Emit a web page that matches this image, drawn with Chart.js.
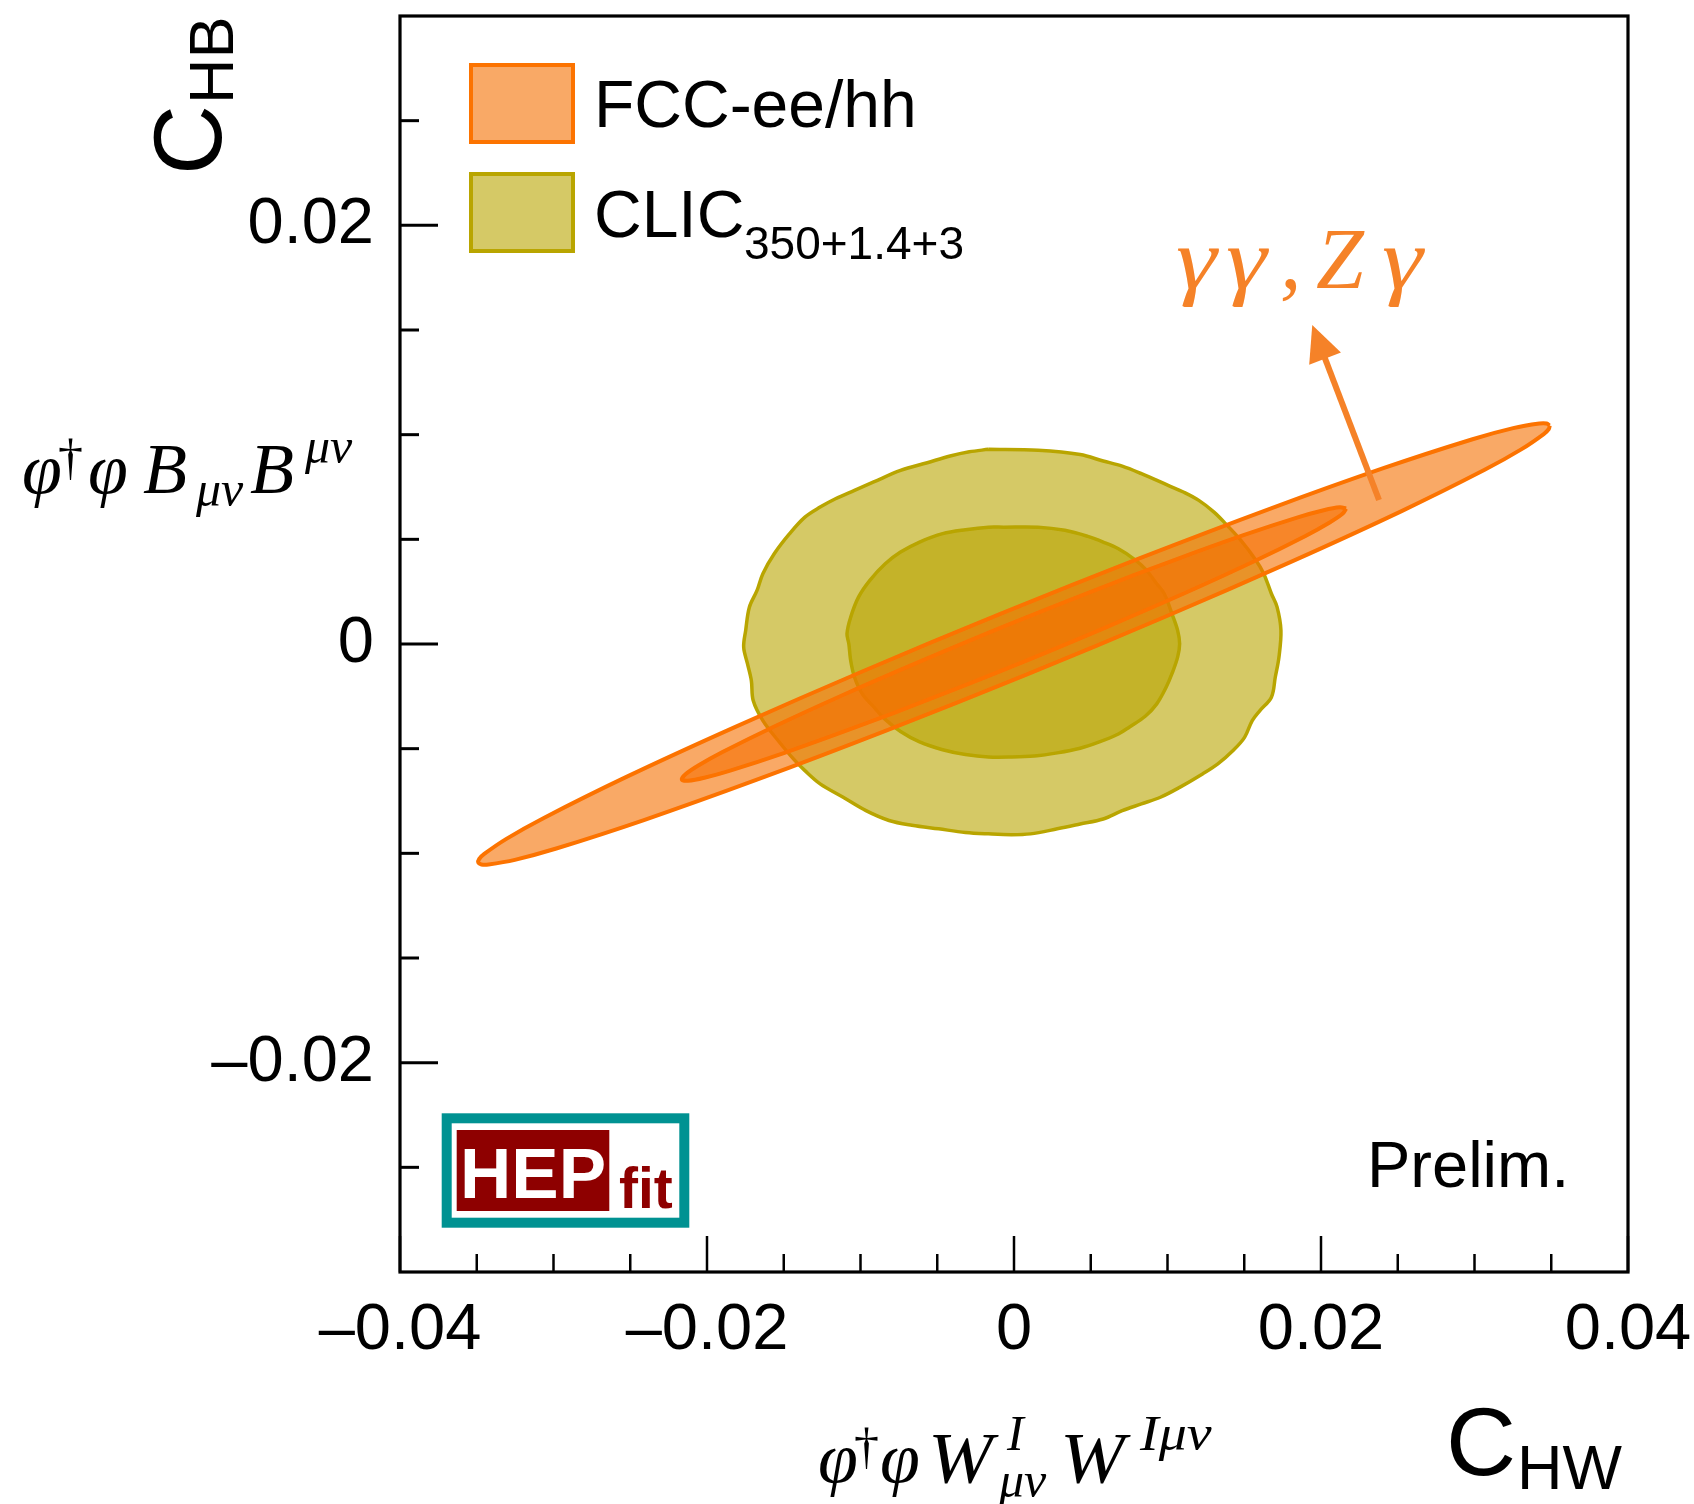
<!DOCTYPE html>
<html>
<head>
<meta charset="utf-8">
<script src="https://cdn.jsdelivr.net/npm/chart.js@4.4.1/dist/chart.umd.min.js"></script>
<style>
  html, body { margin: 0; padding: 0; background: #ffffff; }
  #wrap { width: 1694px; height: 1504px; position: relative; }
</style>
</head>
<body>
<div id="wrap"><canvas id="chart" width="1694" height="1504"></canvas></div>
<script>
// ---- axis ticks ----
const xTickValues = [-0.04, -0.02, 0, 0.02, 0.04];
const xTickLabels = ['\u20130.04', '\u20130.02', '0', '0.02', '0.04'];
const yTickValues = [-0.02, 0, 0.02];
const yTickLabels = ['\u20130.02', '0', '0.02'];
const xMinorTicks = [-0.035, -0.03, -0.025, -0.015, -0.01, -0.005, 0.005, 0.01, 0.015, 0.025, 0.03, 0.035];
const yMinorTicks = [-0.025, -0.015, -0.01, -0.005, 0.005, 0.01, 0.015, 0.025];

// ---- fit contours (C_HW, C_HB) ----
const fccOuter = [
  [0.03490, 0.01044], [0.03484, 0.01027], [0.03451, 0.01003], [0.03307, 0.00931],
  [0.03063, 0.00831], [0.02525, 0.00635], [0.01815, 0.00396], [0.00981, 0.00129],
  [0.00081, -0.00146], [-0.00825, -0.00411], [-0.01675, -0.00648], [-0.02411, -0.00841],
  [-0.02982, -0.00977], [-0.03252, -0.01031], [-0.03423, -0.01053], [-0.03470, -0.01053],
  [-0.03490, -0.01044], [-0.03484, -0.01027], [-0.03451, -0.01003], [-0.03307, -0.00931],
  [-0.03063, -0.00831], [-0.02525, -0.00635], [-0.01815, -0.00396], [-0.00981, -0.00129],
  [-0.00081, 0.00146], [0.00825, 0.00411], [0.01675, 0.00648], [0.02411, 0.00841],
  [0.02982, 0.00977], [0.03252, 0.01031], [0.03423, 0.01053], [0.03470, 0.01053]
];
const fccInner = [
  [0.02164, 0.00647], [0.02140, 0.00622], [0.02051, 0.00578], [0.01899, 0.00516],
  [0.01565, 0.00395], [0.01125, 0.00247], [0.00607, 0.00082], [0.00049, -0.00089],
  [-0.00513, -0.00253], [-0.01040, -0.00400], [-0.01495, -0.00520], [-0.01849, -0.00605],
  [-0.02017, -0.00639], [-0.02123, -0.00653], [-0.02164, -0.00647], [-0.02140, -0.00622],
  [-0.02051, -0.00578], [-0.01899, -0.00516], [-0.01565, -0.00395], [-0.01125, -0.00247],
  [-0.00607, -0.00082], [-0.00049, 0.00089], [0.00513, 0.00253], [0.01040, 0.00400],
  [0.01495, 0.00520], [0.01849, 0.00605], [0.02017, 0.00639], [0.02123, 0.00653]
];
const clicOuter = [
  [-0.00167, 0.00930], [0.00157, 0.00925], [0.00431, 0.00905], [0.00581, 0.00874],
  [0.00705, 0.00850], [0.00830, 0.00814], [0.01004, 0.00758], [0.01103, 0.00726],
  [0.01204, 0.00686], [0.01303, 0.00630], [0.01378, 0.00575], [0.01478, 0.00495],
  [0.01577, 0.00399], [0.01627, 0.00336], [0.01677, 0.00240], [0.01714, 0.00176],
  [0.01739, 0.00065], [0.01726, -0.00063], [0.01702, -0.00159], [0.01677, -0.00254],
  [0.01602, -0.00318], [0.01552, -0.00366], [0.01502, -0.00446], [0.01427, -0.00509],
  [0.01328, -0.00573], [0.01228, -0.00621], [0.01079, -0.00685], [0.00954, -0.00732],
  [0.00830, -0.00764], [0.00705, -0.00796], [0.00581, -0.00836], [0.00431, -0.00860],
  [0.00282, -0.00883], [0.00107, -0.00907], [-0.00017, -0.00911], [-0.00167, -0.00907],
  [-0.00316, -0.00900], [-0.00491, -0.00883], [-0.00665, -0.00866], [-0.00814, -0.00843],
  [-0.00964, -0.00796], [-0.01113, -0.00732], [-0.01263, -0.00668], [-0.01362, -0.00605],
  [-0.01437, -0.00549], [-0.01537, -0.00461], [-0.01636, -0.00366], [-0.01699, -0.00270],
  [-0.01711, -0.00175], [-0.01736, -0.00095], [-0.01761, -0.00015], [-0.01748, 0.00065],
  [-0.01724, 0.00176], [-0.01674, 0.00256], [-0.01636, 0.00336], [-0.01562, 0.00431],
  [-0.01462, 0.00527], [-0.01362, 0.00606], [-0.01263, 0.00654], [-0.01163, 0.00694],
  [-0.01039, 0.00734], [-0.00914, 0.00774], [-0.00739, 0.00829], [-0.00565, 0.00866],
  [-0.00416, 0.00898], [-0.00291, 0.00918]
];
const clicInner = [
  [-0.00067, 0.00558], [0.00157, 0.00558], [0.00331, 0.00543], [0.00481, 0.00514],
  [0.00581, 0.00487], [0.00680, 0.00455], [0.00780, 0.00407], [0.00855, 0.00359],
  [0.00930, 0.00288], [0.00979, 0.00240], [0.01029, 0.00144], [0.01066, 0.00065],
  [0.01079, 0.00001], [0.01066, -0.00063], [0.01029, -0.00142], [0.00991, -0.00207],
  [0.00930, -0.00286], [0.00855, -0.00345], [0.00755, -0.00395], [0.00680, -0.00430],
  [0.00556, -0.00468], [0.00431, -0.00498], [0.00282, -0.00520], [0.00132, -0.00535],
  [-0.00017, -0.00540], [-0.00167, -0.00540], [-0.00316, -0.00528], [-0.00465, -0.00505],
  [-0.00615, -0.00468], [-0.00739, -0.00418], [-0.00839, -0.00360], [-0.00914, -0.00300],
  [-0.00989, -0.00238], [-0.01039, -0.00159], [-0.01064, -0.00079], [-0.01076, 0.00001],
  [-0.01088, 0.00049], [-0.01064, 0.00128], [-0.01013, 0.00224], [-0.00939, 0.00304],
  [-0.00839, 0.00383], [-0.00739, 0.00439], [-0.00615, 0.00487], [-0.00465, 0.00527],
  [-0.00316, 0.00546], [-0.00167, 0.00558]
];

// arrow pointing out of the band, in (C_HW, C_HB) units
const arrowTail = [0.02378, 0.00688];
const arrowTip = [0.01943, 0.01524];

const SANS = '"Liberation Sans", Arial, Helvetica, sans-serif';
const SERIF = '"Liberation Serif", "Times New Roman", serif';

const FCC_LINE = 'rgb(252, 115, 0)';
const FCC_FILL = 'rgba(245, 112, 0, 0.6)';
const CLIC_LINE = 'rgb(185, 165, 0)';
const CLIC_FILL = 'rgba(185, 165, 0, 0.6)';
const ARROW = 'rgb(245, 130, 40)';

const loopPoints = arr => arr.concat([arr[0]]).map(p => ({ x: p[0], y: p[1] }));

function contour(label, pts, line, fillCol, width, order) {
  return {
    label, data: loopPoints(pts), showLine: true, fill: 'shape',
    backgroundColor: fillCol, borderColor: line, borderWidth: width,
    pointRadius: 0, pointHoverRadius: 0, pointHitRadius: 0,
    tension: 0.35, order
  };
}

function text(ctx, str, x, y, font, color, align, stretch) {
  ctx.save();
  ctx.font = font;
  ctx.fillStyle = color || '#000';
  ctx.textAlign = align || 'left';
  ctx.textBaseline = 'alphabetic';
  ctx.translate(x, y);
  if (stretch) ctx.scale(stretch, 1);
  ctx.fillText(str, 0, 0);
  ctx.restore();
}

const decorations = {
  id: 'decorations',
  afterDraw(chart) {
    const { ctx, chartArea: a, scales: { x, y } } = chart;
    ctx.save();

    // tick marks, pointing into the frame
    ctx.strokeStyle = '#000';
    ctx.lineCap = 'butt';
    const seg = (x1, y1, x2, y2, w) => {
      ctx.lineWidth = w; ctx.beginPath(); ctx.moveTo(x1, y1); ctx.lineTo(x2, y2); ctx.stroke();
    };
    xTickValues.forEach(v => { const p = x.getPixelForValue(v); seg(p, a.bottom, p, a.bottom - 36, 2.5); });
    xMinorTicks.forEach(v => { const p = x.getPixelForValue(v); seg(p, a.bottom, p, a.bottom - 18, 2.5); });
    yTickValues.forEach(v => { const p = y.getPixelForValue(v); seg(a.left, p, a.left + 38, p, 3); });
    yMinorTicks.forEach(v => { const p = y.getPixelForValue(v); seg(a.left, p, a.left + 19, p, 3); });

    // frame
    ctx.lineWidth = 3.2;
    ctx.strokeRect(a.left, a.top, a.right - a.left, a.bottom - a.top);

    // legend
    ctx.lineWidth = 4;
    ctx.fillStyle = FCC_FILL; ctx.fillRect(471, 65, 102, 77);
    ctx.strokeStyle = FCC_LINE; ctx.strokeRect(471, 65, 102, 77);
    ctx.fillStyle = CLIC_FILL; ctx.fillRect(471, 174, 102, 77);
    ctx.strokeStyle = CLIC_LINE; ctx.strokeRect(471, 174, 102, 77);
    text(ctx, 'FCC-ee/hh', 594, 127, `66px ${SANS}`);
    text(ctx, 'CLIC', 594, 237, `66px ${SANS}`);
    text(ctx, '350+1.4+3', 744, 259, `46px ${SANS}`);

    // arrow and its label
    const tx = x.getPixelForValue(arrowTail[0]), ty = y.getPixelForValue(arrowTail[1]);
    const hx = x.getPixelForValue(arrowTip[0]), hy = y.getPixelForValue(arrowTip[1]);
    const len = Math.hypot(hx - tx, hy - ty);
    const ux = (hx - tx) / len, uy = (hy - ty) / len;
    const headL = 36, headW = 17;
    const bx = hx - ux * headL, by = hy - uy * headL;
    ctx.strokeStyle = ARROW; ctx.fillStyle = ARROW;
    seg(tx, ty, bx + ux * 4, by + uy * 4, 6);
    ctx.beginPath();
    ctx.moveTo(hx, hy);
    ctx.lineTo(bx - uy * headW, by + ux * headW);
    ctx.lineTo(bx + uy * headW, by - ux * headW);
    ctx.closePath(); ctx.fill();

    const gfont = `italic 86px ${SERIF}`;
    text(ctx, '\u03b3', 1176, 288, gfont, ARROW, null, 1.2);
    text(ctx, '\u03b3', 1226, 288, gfont, ARROW, null, 1.2);
    text(ctx, ',', 1280, 288, gfont, ARROW);
    text(ctx, 'Z', 1316, 288, gfont, ARROW);
    text(ctx, '\u03b3', 1382, 288, gfont, ARROW, null, 1.2);

    // Prelim.
    text(ctx, 'Prelim.', 1367, 1187, `65px ${SANS}`);

    // HEPfit badge
    ctx.strokeStyle = 'rgb(0, 146, 146)'; ctx.lineWidth = 10;
    ctx.strokeRect(446.7, 1118.3, 237.6, 104.4);
    ctx.fillStyle = 'rgb(142, 0, 0)';
    ctx.fillRect(456.7, 1130, 152.6, 81);
    text(ctx, 'HEP', 460, 1198, `bold 71px ${SANS}`, '#ffffff');
    text(ctx, 'fit', 619, 1208, `bold 57px ${SANS}`, 'rgb(142, 0, 0)');

    // axis titles
    ctx.save();
    ctx.translate(221, 175);
    ctx.rotate(-Math.PI / 2);
    text(ctx, 'C', 0, 0, `97px ${SANS}`);
    text(ctx, 'HB', 71, 12, `63px ${SANS}`);
    ctx.restore();
    text(ctx, 'C', 1446, 1475, `97px ${SANS}`);
    text(ctx, 'HW', 1517, 1489, `63px ${SANS}`);

    // operator names
    const mi = s => `italic ${s}px ${SERIF}`;
    const up = s => `${s}px ${SERIF}`;
    text(ctx, '\u03c6', 22, 493, mi(72));
    text(ctx, '\u2020', 58, 474, up(50));
    text(ctx, '\u03c6', 88, 493, mi(72));
    text(ctx, 'B', 143, 493, mi(72));
    text(ctx, '\u03bc\u03bd', 196, 506, mi(50));
    text(ctx, 'B', 250, 493, mi(72));
    text(ctx, '\u03bc\u03bd', 305, 463, mi(50));

    text(ctx, '\u03c6', 818, 1482, mi(72));
    text(ctx, '\u2020', 854, 1463, up(50));
    text(ctx, '\u03c6', 880, 1482, mi(72));
    text(ctx, 'W', 928, 1482, mi(72), null, null, 1.08);
    text(ctx, 'I', 1007, 1450, mi(50));
    text(ctx, '\u03bc\u03bd', 999, 1497, mi(50));
    text(ctx, 'W', 1060, 1482, mi(72), null, null, 1.08);
    text(ctx, 'I\u03bc\u03bd', 1140, 1450, mi(50), null, null, 1.12);

    ctx.restore();
  }
};

new Chart(document.getElementById('chart'), {
  type: 'scatter',
  data: {
    datasets: [
      contour('FCC-ee/hh 68%', fccInner, FCC_LINE, FCC_FILL, 4, 1),
      contour('FCC-ee/hh 95%', fccOuter, FCC_LINE, FCC_FILL, 4, 2),
      contour('CLIC 68%', clicInner, CLIC_LINE, CLIC_FILL, 3.5, 3),
      contour('CLIC 95%', clicOuter, CLIC_LINE, CLIC_FILL, 3.5, 4)
    ]
  },
  options: {
    responsive: false,
    animation: false,
    devicePixelRatio: 1,
    layout: { padding: { top: 16, right: 66, left: 0, bottom: 0 } },
    plugins: { legend: { display: false }, tooltip: { enabled: false } },
    events: [],
    scales: {
      x: {
        type: 'linear', min: -0.04, max: 0.04,
        grid: { display: false, drawTicks: false }, border: { display: false },
        afterBuildTicks: s => { s.ticks = xTickValues.map(v => ({ value: v })); },
        afterFit: s => { s.height = 232; s.paddingLeft = 0; s.paddingRight = 0; },
        ticks: {
          autoSkip: false, maxRotation: 0, minRotation: 0, padding: 20, color: '#000',
          font: { family: SANS, size: 65 },
          callback: v => xTickLabels[xTickValues.indexOf(v)]
        }
      },
      y: {
        type: 'linear', min: -0.03, max: 0.03,
        grid: { display: false, drawTicks: false }, border: { display: false },
        afterBuildTicks: s => { s.ticks = yTickValues.map(v => ({ value: v })); },
        afterFit: s => { s.width = 400; s.paddingTop = 0; s.paddingBottom = 0; },
        ticks: {
          autoSkip: false, padding: 26, color: '#000',
          font: { family: SANS, size: 65 },
          callback: v => yTickLabels[yTickValues.indexOf(v)]
        }
      }
    }
  },
  plugins: [decorations]
});
</script>
</body>
</html>
